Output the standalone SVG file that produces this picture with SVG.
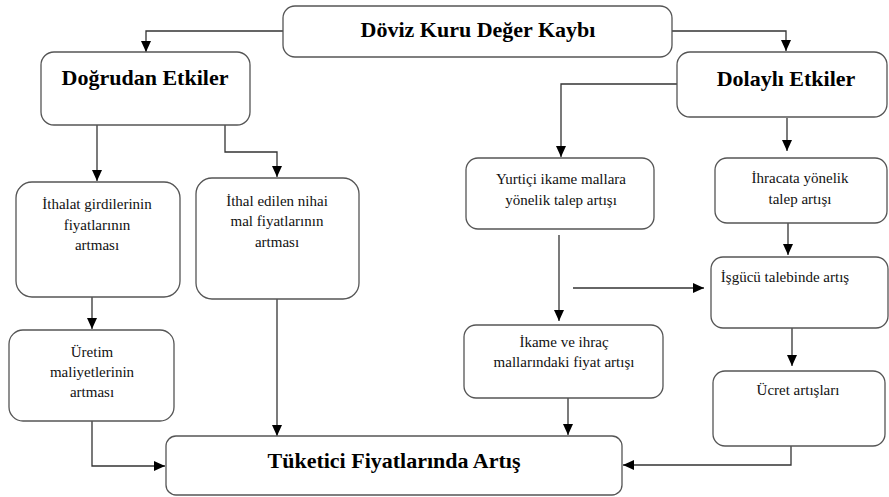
<svg xmlns="http://www.w3.org/2000/svg" width="889" height="497" viewBox="0 0 889 497">
<style>
.box{fill:#fff;stroke:#555;stroke-width:1.3}
.title{font-family:'Liberation Serif','Times New Roman',serif;font-weight:bold;font-size:22px;fill:#000;text-anchor:middle}
.t{font-family:'Liberation Serif','Times New Roman',serif;font-size:15px;fill:#111;text-anchor:middle}
.c{fill:none;stroke:#333;stroke-width:1.3}
</style>
<defs>
<marker id="ah" viewBox="0 0 11 10" refX="11" refY="5" markerWidth="11" markerHeight="10" orient="auto" markerUnits="userSpaceOnUse">
<path d="M0,0 L11,5 L0,10 z" fill="#000"/>
</marker>
</defs>
<rect width="889" height="497" fill="#fff"/>
<g id="connectors">
<path class="c" marker-end="url(#ah)" d="M283,31 H146 V52"/>
<path class="c" marker-end="url(#ah)" d="M672,31 H786 V51"/>
<path class="c" marker-end="url(#ah)" d="M97,125 V181"/>
<path class="c" marker-end="url(#ah)" d="M225,125 V152 H277 V177"/>
<path class="c" marker-end="url(#ah)" d="M677,84 H561 V157"/>
<path class="c" marker-end="url(#ah)" d="M787,118 V151"/>
<path class="c" marker-end="url(#ah)" d="M92,297 V329"/>
<path class="c" marker-end="url(#ah)" d="M277,299 V436"/>
<path class="c" marker-end="url(#ah)" d="M92,421 V466 H165"/>
<path class="c" marker-end="url(#ah)" d="M559,235 V321"/>
<path class="c" marker-end="url(#ah)" d="M573,288 H704"/>
<path class="c" marker-end="url(#ah)" d="M788,223 V255"/>
<path class="c" marker-end="url(#ah)" d="M792,328 V366"/>
<path class="c" marker-end="url(#ah)" d="M568,398 V435"/>
<path class="c" marker-end="url(#ah)" d="M791,446 V465 H623"/>
</g>
<g id="doviz"><rect class="box" x="283" y="6" width="389" height="51" rx="12"/><text class="title" x="478" y="37">Döviz Kuru Değer Kaybı</text></g>
<g id="dogrudan"><rect class="box" x="41" y="52" width="209" height="73" rx="13"/><text class="title" x="145" y="85">Doğrudan Etkiler</text></g>
<g id="dolayli"><rect class="box" x="677" y="52" width="210" height="65" rx="13"/><text class="title" x="786" y="86">Dolaylı Etkiler</text></g>
<g id="ithalat"><rect class="box" x="16" y="182" width="164" height="115" rx="16"/><text class="t" x="97" y="209">İthalat girdilerinin</text><text class="t" x="97" y="230">fiyatlarının</text><text class="t" x="97" y="250">artması</text></g>
<g id="ithal"><rect class="box" x="196" y="178" width="163" height="121" rx="16"/><text class="t" x="277" y="206">İthal edilen nihai</text><text class="t" x="277" y="226">mal fiyatlarının</text><text class="t" x="277" y="247">artması</text></g>
<g id="uretim"><rect class="box" x="9" y="330" width="165" height="91" rx="14"/><text class="t" x="92" y="357">Üretim</text><text class="t" x="92" y="377">maliyetlerinin</text><text class="t" x="92" y="397">artması</text></g>
<g id="tuketici"><rect class="box" x="166" y="436" width="456" height="59" rx="10"/><text class="title" x="394" y="468">Tüketici Fiyatlarında Artış</text></g>
<g id="yurtici"><rect class="box" x="466" y="158" width="188" height="71" rx="12"/><text class="t" x="561" y="184">Yurtiçi ikame mallara</text><text class="t" x="561" y="205">yönelik talep artışı</text></g>
<g id="ihracata"><rect class="box" x="715" y="158" width="172" height="65" rx="12"/><text class="t" x="800" y="183">İhracata yönelik</text><text class="t" x="800" y="204">talep artışı</text></g>
<g id="isgucu"><rect class="box" x="711" y="257" width="177" height="71" rx="12"/><text class="t" x="785" y="282">İşgücü talebinde artış</text></g>
<g id="ucret"><rect class="box" x="713" y="371" width="172" height="75" rx="12"/><text class="t" x="798" y="395">Ücret artışları</text></g>
<g id="ikame"><rect class="box" x="464" y="325" width="199" height="73" rx="12"/><text class="t" x="564" y="347">İkame ve ihraç</text><text class="t" x="564" y="367">mallarındaki fiyat artışı</text></g>
</svg>
